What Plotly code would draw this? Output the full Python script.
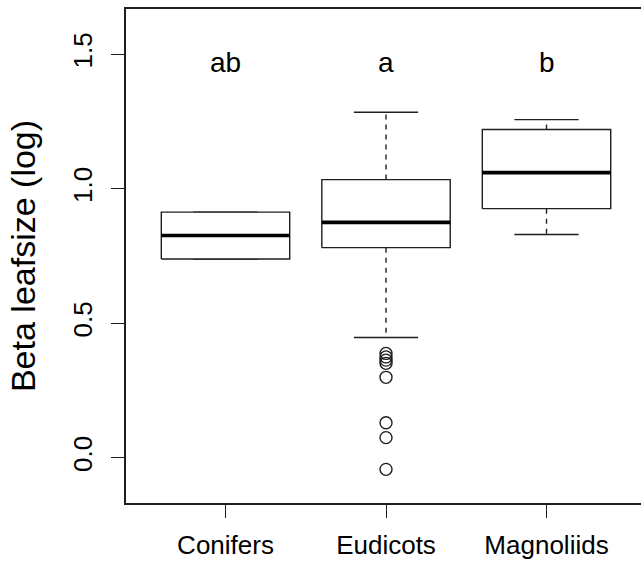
import plotly.graph_objects as go

# Summary statistics of beta leafsize (log) per clade
categories = ["Conifers", "Eudicots", "Magnoliids"]
q1 = [0.739, 0.781, 0.926]
median = [0.826, 0.875, 1.060]
q3 = [0.913, 1.034, 1.220]
whisker_low = [0.739, 0.447, 0.830]
whisker_high = [0.913, 1.284, 1.257]
outlier_groups = [[], [0.388, 0.375, 0.363, 0.351, 0.299, 0.130, 0.075, -0.043], []]
group_letters = ["ab", "a", "b"]
letter_y = 1.47
y_ticks = [0.0, 0.5, 1.0, 1.5]
y_limits = [-0.1, 1.6]

LINE = "#1e1e1e"
FONT = "Liberation Sans, Arial, sans-serif"
half_box = 0.4
half_cap = 0.2

fig = go.Figure()

for i, name in enumerate(categories):
    x = i + 1
    # whiskers (dashed)
    fig.add_trace(go.Scatter(
        x=[x, x, None, x, x],
        y=[q3[i], whisker_high[i], None, q1[i], whisker_low[i]],
        mode="lines", line=dict(color=LINE, width=1.4, dash="5px,5px"),
        hoverinfo="skip", showlegend=False))
    # staples
    fig.add_trace(go.Scatter(
        x=[x - half_cap, x + half_cap, None, x - half_cap, x + half_cap],
        y=[whisker_high[i], whisker_high[i], None, whisker_low[i], whisker_low[i]],
        mode="lines", line=dict(color=LINE, width=1.4),
        hoverinfo="skip", showlegend=False))
    # box
    fig.add_trace(go.Scatter(
        x=[x - half_box, x + half_box, x + half_box, x - half_box, x - half_box],
        y=[q1[i], q1[i], q3[i], q3[i], q1[i]],
        mode="lines", line=dict(color=LINE, width=1.4),
        fill="toself", fillcolor="white",
        hoverinfo="skip", showlegend=False))
    # median
    fig.add_trace(go.Scatter(
        x=[x - half_box, x + half_box], y=[median[i], median[i]],
        mode="lines", line=dict(color="black", width=3.6),
        hoverinfo="skip", showlegend=False))
    # outliers
    if outlier_groups[i]:
        fig.add_trace(go.Scatter(
            x=[x] * len(outlier_groups[i]), y=outlier_groups[i],
            mode="markers",
            marker=dict(symbol="circle-open", size=12, color=LINE, line=dict(width=1.4)),
            hoverinfo="skip", showlegend=False))

# significance letters
for i, lab in enumerate(group_letters):
    fig.add_annotation(x=i + 1, y=letter_y, text=lab, showarrow=False,
                       font=dict(family=FONT, size=28, color="black"),
                       xanchor="center", yanchor="middle")

pad = 0.04 * (y_limits[1] - y_limits[0])
x_left = 0.38
x_right = x_left + 515 / 160.5

fig.update_layout(
    width=641, height=566,
    margin=dict(l=126, r=0, t=9, b=63),
    paper_bgcolor="white", plot_bgcolor="white",
    font=dict(family=FONT, color="black"),
    xaxis=dict(
        range=[x_left, x_right], tickmode="array", tickvals=[1, 2, 3], ticktext=categories,
        showgrid=False, zeroline=False, showline=True, mirror=True,
        linecolor=LINE, linewidth=1.5,
        ticks="outside", ticklen=13, tickwidth=1.3, tickcolor=LINE,
        tickfont=dict(size=26, color="black"), ticklabelstandoff=5),
    yaxis=dict(
        range=[y_limits[0] - pad, y_limits[1] + pad], tickmode="array", tickvals=y_ticks,
        ticktext=[f"{v:.1f}" for v in y_ticks],
        showgrid=False, zeroline=False, showline=True, mirror=False,
        linecolor=LINE, linewidth=1.5,
        ticks="outside", ticklen=13, tickwidth=1.3, tickcolor=LINE,
        tickangle=-90, tickfont=dict(size=26, color="black"), ticklabelstandoff=9,
        title=dict(text="Beta leafsize (log)", font=dict(size=34, color="black"), standoff=22)),
)

fig.write_html("out.html")
